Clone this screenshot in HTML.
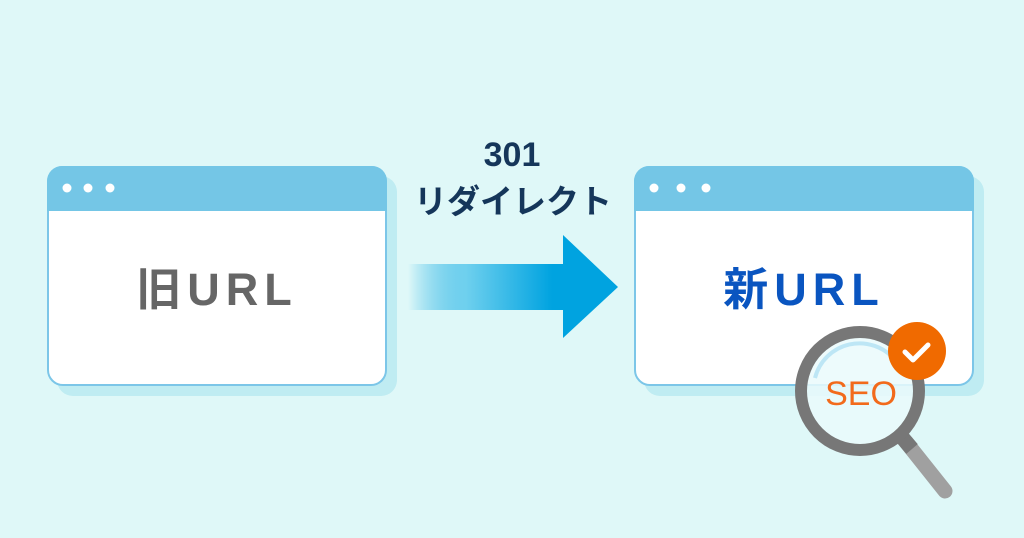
<!DOCTYPE html>
<html><head><meta charset="utf-8"><style>
html,body{margin:0;padding:0;}
body{width:1024px;height:538px;background:#dff8f8;position:relative;overflow:hidden;font-family:"Liberation Sans","Noto Sans CJK JP",sans-serif;}
</style></head><body>
<svg width="1024" height="538" viewBox="0 0 1024 538" xmlns="http://www.w3.org/2000/svg" style="position:absolute;left:0;top:0">
<defs>
<linearGradient id="g" x1="408" y1="0" x2="600" y2="0" gradientUnits="userSpaceOnUse">
<stop offset="0" stop-color="#00a3e0" stop-opacity="0"/>
<stop offset="0.3" stop-color="#6fd0ee"/>
<stop offset="0.75" stop-color="#00a3e0"/>
<stop offset="1" stop-color="#00a3e0"/>
</linearGradient>
</defs>
<rect x="57" y="176" width="340" height="220" rx="16" fill="#bfecf2"/>
<rect x="48" y="167" width="338" height="218" rx="15" fill="#fff" stroke="#7cc6e8" stroke-width="2"/>
<path d="M47 211 V181 a15 15 0 0 1 15 -15 H372 a15 15 0 0 1 15 15 V211 Z" fill="#74c6e6"/>
<circle cx="67" cy="188" r="4.5" fill="#fff"/><circle cx="88" cy="188" r="4.5" fill="#fff"/><circle cx="110" cy="188" r="4.5" fill="#fff"/>
<text x="217" y="305" text-anchor="middle" font-size="45" font-weight="bold" fill="#666" letter-spacing="6">旧URL</text>
<rect x="644" y="176" width="340" height="220" rx="16" fill="#bfecf2"/>
<rect x="635" y="167" width="338" height="218" rx="15" fill="#fff" stroke="#7cc6e8" stroke-width="2"/>
<path d="M634 211 V181 a15 15 0 0 1 15 -15 H959 a15 15 0 0 1 15 15 V211 Z" fill="#74c6e6"/>
<circle cx="654" cy="188" r="4.5" fill="#fff"/><circle cx="681" cy="188" r="4.5" fill="#fff"/><circle cx="706" cy="188" r="4.5" fill="#fff"/>
<text x="804" y="305" text-anchor="middle" font-size="45" font-weight="bold" fill="#0a55c0" letter-spacing="6">新URL</text>
<rect x="408" y="264" width="160" height="46" fill="url(#g)"/>
<polygon points="563,235 618,287 563,338" fill="#00a3e0"/>
<text x="512" y="166" text-anchor="middle" font-size="34" font-weight="bold" fill="#15365a">301</text>
<text x="513" y="213" text-anchor="middle" font-size="33" font-weight="bold" fill="#15365a">リダイレクト</text>
<line x1="906" y1="442" x2="945" y2="491" stroke="#a0a0a0" stroke-width="15" stroke-linecap="round"/>
<line x1="901" y1="436" x2="912" y2="449" stroke="#777" stroke-width="15"/>
<circle cx="860" cy="391" r="59" fill="#eafafc" fill-opacity="0.85" stroke="#777" stroke-width="12"/>
<path d="M815 378 A46 46 0 0 1 895 360" fill="none" stroke="#bde6f5" stroke-width="4"/>
<text x="861" y="405" text-anchor="middle" font-size="34" fill="#f26a1b">SEO</text>
<circle cx="917" cy="351" r="29" fill="#f06a00"/>
<path d="M905 352 l8 8 l15 -15" fill="none" stroke="#fff" stroke-width="5" stroke-linecap="round" stroke-linejoin="round"/>
</svg>
</body></html>
